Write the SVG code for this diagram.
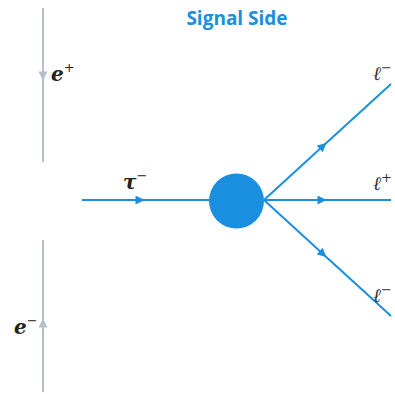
<svg xmlns="http://www.w3.org/2000/svg" width="395" height="394" viewBox="0 0 395 394">
<style>
.b{stroke:#1a8fdf;stroke-width:2;fill:none}
.g{stroke:#b3bfcc;stroke-width:2;fill:none}
.m{font-family:"DejaVu Serif","Liberation Serif",serif;fill:#222}
.bm{font-weight:bold;font-style:italic;font-size:20px}
.l{font-style:italic;font-size:19px;fill:#333}
.s{font-size:13px;font-style:normal;font-weight:normal}
.t{font-family:"Open Sans","Noto Sans",sans-serif;font-weight:bold;font-size:19px;fill:#1a8fdf}
</style>
<defs>
<marker id="ab" viewBox="0 0 10 10" refX="5" refY="5" markerWidth="10" markerHeight="9" orient="auto" markerUnits="userSpaceOnUse"><path d="M0,0L10,5L0,10z" fill="#1a8fdf"/></marker>
<marker id="ag" viewBox="0 0 10 10" refX="5" refY="5" markerWidth="10" markerHeight="9" orient="auto" markerUnits="userSpaceOnUse"><path d="M0,0L10,5L0,10z" fill="#b3bfcc"/></marker>
</defs>
<text class="t" x="237" y="25" text-anchor="middle">Signal Side</text>
<g id="connectors">
<path class="g" d="M43,8L43,76L43,162" marker-mid="url(#ag)"/>
<path class="g" d="M43,392L43,323L43,240" marker-mid="url(#ag)"/>
<path class="b" d="M82,200L140,200L210,200" marker-mid="url(#ab)"/>
<path class="b" d="M264,200L323,146L391,84" marker-mid="url(#ab)"/>
<path class="b" d="M264,200L322,200L391,200" marker-mid="url(#ab)"/>
<path class="b" d="M264,200L323,254L391,316" marker-mid="url(#ab)"/>
</g>
<g id="blob"><circle cx="236.5" cy="201" r="27.5" fill="#1a8fdf"/></g>
<g id="labels">
<text class="m bm" x="51" y="81">e<tspan class="s" dy="-9">+</tspan></text>
<text class="m bm" x="14" y="334">e<tspan class="s" dy="-9">−</tspan></text>
<text class="m bm" x="123" y="189">τ<tspan class="s" dy="-9">−</tspan></text>
<text class="m l" x="373" y="80">ℓ<tspan class="s" dy="-8">−</tspan></text>
<text class="m l" x="373" y="190">ℓ<tspan class="s" dy="-8">+</tspan></text>
<text class="m l" x="373" y="302">ℓ<tspan class="s" dy="-8">−</tspan></text>
</g>
</svg>
